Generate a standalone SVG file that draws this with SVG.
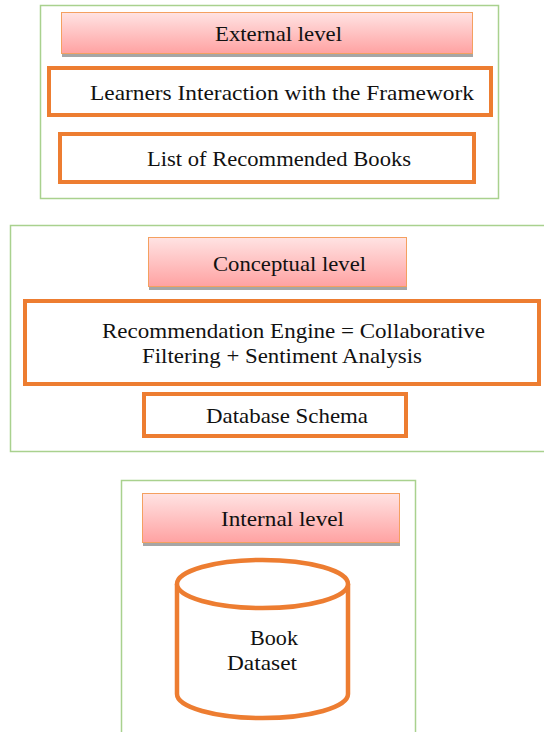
<svg xmlns="http://www.w3.org/2000/svg" width="544" height="732" viewBox="0 0 544 732">
<defs>
<linearGradient id="hdr" x1="0" y1="0" x2="0" y2="1">
<stop offset="0" stop-color="#FFE3E3"/>
<stop offset="1" stop-color="#FFA2A2"/>
</linearGradient>
</defs>
<style>
.lvl{fill:#fff;stroke:#A9D18E;stroke-width:1.5}
.hdr{fill:url(#hdr);stroke:#F4A060;stroke-width:1}
.shd{fill:#A6A6A6}
.box{fill:#fff;stroke:#ED7D31;stroke-width:4}
.cyl{fill:#fff;stroke:#ED7D31;stroke-width:4.5}
text{font-family:"Liberation Serif","Times New Roman",serif;font-size:22px;fill:#111}
</style>
<rect width="544" height="732" fill="#fff"/>

<g id="external-level">
<rect class="lvl" x="40.5" y="5.5" width="458" height="193"/>
<rect class="shd" x="62" y="15" width="411" height="42"/>
<rect class="hdr" x="61.5" y="12.5" width="411" height="41"/>
<text x="215" y="41" textLength="127" lengthAdjust="spacingAndGlyphs">External level</text>
</g>
<g id="learners-interaction">
<rect class="box" x="49" y="68" width="442" height="47"/>
<text x="90" y="100" textLength="384" lengthAdjust="spacingAndGlyphs">Learners Interaction with the Framework</text>
</g>
<g id="recommended-books">
<rect class="box" x="60" y="134" width="414" height="48"/>
<text x="147" y="166" textLength="264" lengthAdjust="spacingAndGlyphs">List of Recommended Books</text>
</g>

<g id="conceptual-level">
<rect class="lvl" x="10.5" y="225.5" width="540" height="226"/>
<rect class="shd" x="149" y="240" width="258" height="50"/>
<rect class="hdr" x="148.5" y="237.5" width="258" height="49"/>
<text x="213" y="271" textLength="153" lengthAdjust="spacingAndGlyphs">Conceptual level</text>
</g>
<g id="recommendation-engine">
<rect class="box" x="25" y="301" width="514" height="83"/>
<text x="102" y="338" textLength="383" lengthAdjust="spacingAndGlyphs">Recommendation Engine = Collaborative</text>
<text x="142" y="363" textLength="280" lengthAdjust="spacingAndGlyphs">Filtering + Sentiment Analysis</text>
</g>
<g id="database-schema">
<rect class="box" x="144" y="394" width="262" height="42"/>
<text x="206" y="423" textLength="162" lengthAdjust="spacingAndGlyphs">Database Schema</text>
</g>

<g id="internal-level">
<rect class="lvl" x="121.5" y="480.5" width="294" height="260"/>
<rect class="shd" x="143" y="496" width="257" height="50"/>
<rect class="hdr" x="142.5" y="493.5" width="257" height="49"/>
<text x="221" y="526" textLength="123" lengthAdjust="spacingAndGlyphs">Internal level</text>
</g>
<g id="book-dataset">
<path class="cyl" d="M177,584 A85.5,24 0 0 1 348,584 L348,694 A85.5,24 0 0 1 177,694 Z"/>
<path class="cyl" fill="none" d="M177,584 A85.5,24 0 0 0 348,584"/>
<text x="250" y="645" textLength="48" lengthAdjust="spacingAndGlyphs">Book</text>
<text x="227" y="670" textLength="70" lengthAdjust="spacingAndGlyphs">Dataset</text>
</g>

<g id="connectors"></g>
</svg>
